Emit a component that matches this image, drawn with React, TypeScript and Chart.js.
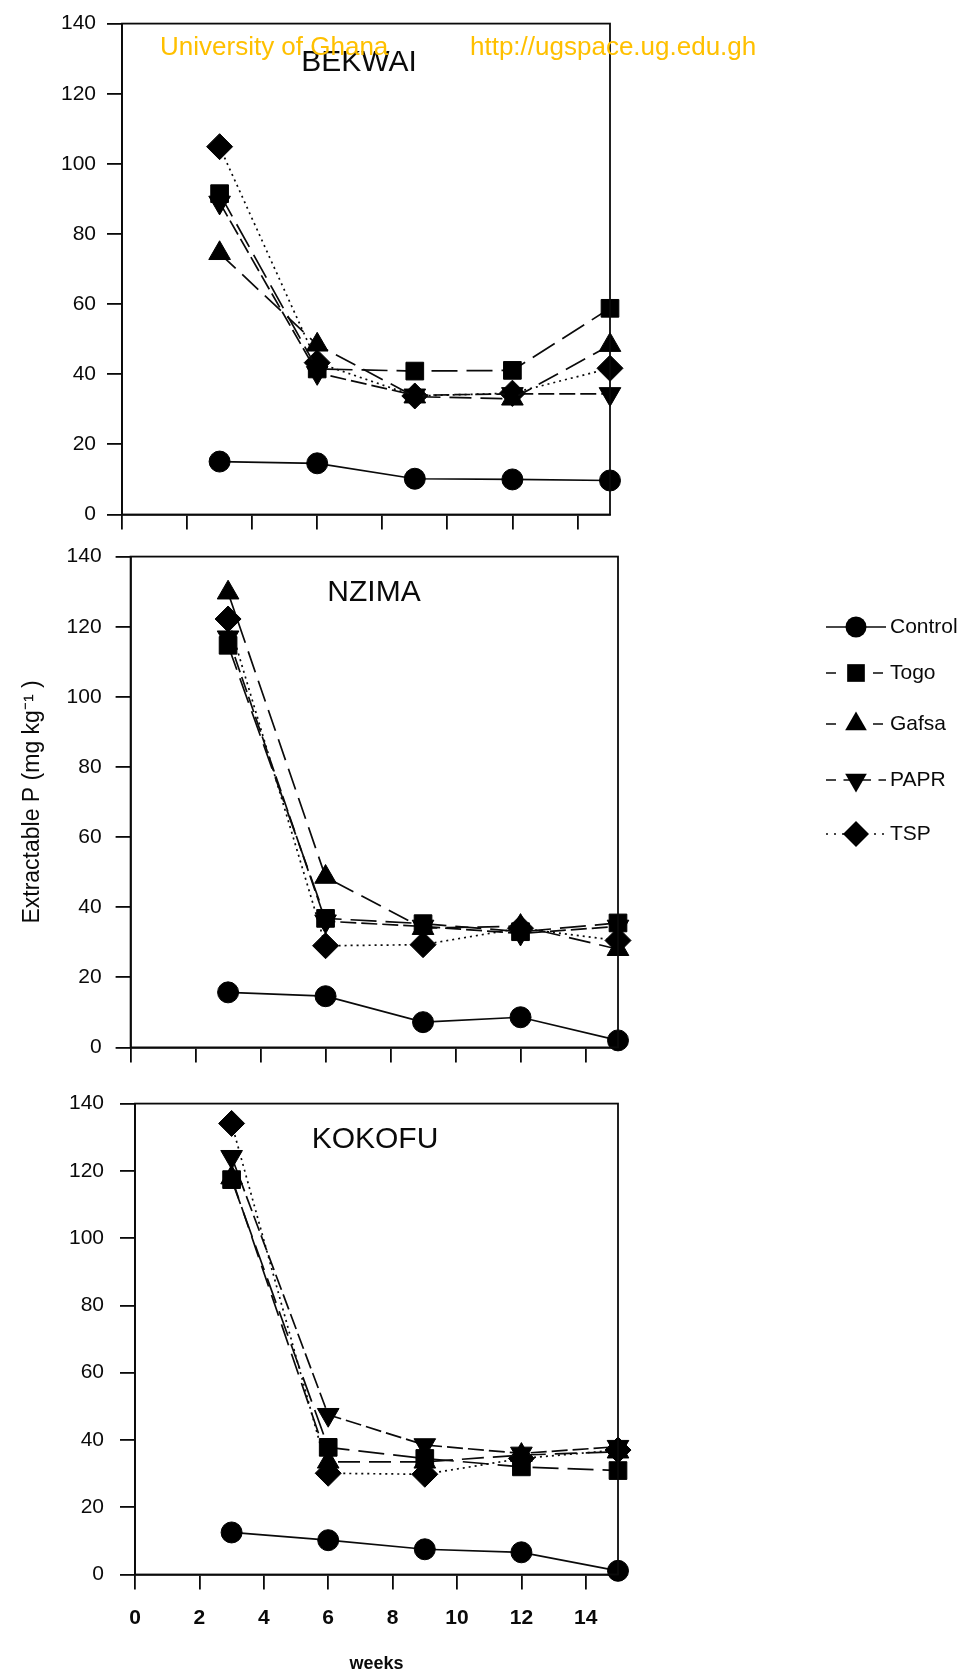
import React, { useEffect, useRef } from 'react';
import { Chart, registerables } from 'chart.js';

Chart.register(...registerables);

// ---------- data ----------
const weeks = [3, 6, 9, 12, 15];
const xTickValues = [0, 2, 4, 6, 8, 10, 12, 14];
const yTickValues = [0, 20, 40, 60, 80, 100, 120, 140];
const seriesNames = ['Control', 'Togo', 'Gafsa', 'PAPR', 'TSP'];

const bekwaiControl = [15.1, 14.6, 10.2, 10.0, 9.7];
const bekwaiTogo = [91.5, 41.5, 40.9, 41.1, 58.8];
const bekwaiGafsa = [74.5, 48.4, 33.6, 33.0, 48.3];
const bekwaiPAPR = [89.0, 40.4, 34.0, 34.4, 34.4];
const bekwaiTSP = [104.9, 43.3, 33.8, 34.6, 41.7];

const nzimaControl = [15.7, 14.6, 7.2, 8.6, 2.0];
const nzimaTogo = [114.7, 36.8, 35.3, 33.0, 35.5];
const nzimaGafsa = [129.7, 48.6, 34.0, 34.6, 28.0];
const nzimaPAPR = [117.0, 36.0, 34.5, 32.5, 34.5];
const nzimaTSP = [122.2, 29.0, 29.3, 34.0, 30.5];

const kokofuControl = [12.5, 10.2, 7.5, 6.6, 1.1];
const kokofuTogo = [117.4, 37.8, 34.5, 32.0, 30.9];
const kokofuGafsa = [118.0, 33.5, 33.5, 35.5, 36.5];
const kokofuPAPR = [124.2, 47.5, 38.5, 36.0, 38.0];
const kokofuTSP = [134.1, 30.1, 29.8, 34.5, 37.0];

const panelTitles = ['BEKWAI', 'NZIMA', 'KOKOFU'];
const yAxisTitle = 'Extractable P (mg kg\u207B\u00B9 )';
const xAxisTitle = 'weeks';

// ---------- styles ----------
const FONT = "'Liberation Sans', Arial, sans-serif";
const INK = '#0a0a0a';

const seriesStyles: any[] = [
  { pointStyle: 'circle', radius: 10.5, rotation: 0, dash: [] },
  { pointStyle: 'rect', radius: 12.5, rotation: 0, dash: [26, 9] },
  { pointStyle: 'triangle', radius: 12.5, rotation: 0, dash: [22, 9] },
  { pointStyle: 'triangle', radius: 12.5, rotation: 180, dash: [16, 5] },
  { pointStyle: 'rectRot', radius: 13, rotation: 0, dash: [2, 4] },
];

function buildDatasets(seriesValues: number[][]) {
  return seriesValues.map((vals, i) => {
    const st = seriesStyles[i];
    return {
      label: seriesNames[i],
      data: weeks.map((w, j) => ({ x: w, y: vals[j] })),
      borderColor: INK,
      backgroundColor: '#000',
      borderWidth: 1.7,
      borderDash: st.dash,
      pointStyle: st.pointStyle,
      pointRadius: st.radius,
      pointRotation: st.rotation,
      pointBackgroundColor: '#000',
      pointBorderColor: '#000',
      pointBorderWidth: 1,
      tension: 0,
      clip: false,
    };
  });
}

const framePlugin = {
  id: 'frameBox',
  afterDraw(chart: any) {
    const { ctx, chartArea } = chart;
    ctx.save();
    ctx.strokeStyle = INK;
    ctx.lineWidth = 1.8;
    ctx.setLineDash([]);
    ctx.strokeRect(chartArea.left, chartArea.top, chartArea.right - chartArea.left, chartArea.bottom - chartArea.top);
    ctx.restore();
  },
};

function drawMarker(ctx: CanvasRenderingContext2D, style: string, r: number, rot: number, x: number, y: number) {
  ctx.beginPath();
  if (style === 'circle') {
    ctx.arc(x, y, r, 0, Math.PI * 2);
  } else if (style === 'rect') {
    const s = r * Math.SQRT1_2;
    ctx.rect(x - s, y - s, 2 * s, 2 * s);
  } else if (style === 'triangle') {
    let a = (rot * Math.PI) / 180;
    ctx.moveTo(x + Math.sin(a) * r, y - Math.cos(a) * r);
    a += (2 * Math.PI) / 3;
    ctx.lineTo(x + Math.sin(a) * r, y - Math.cos(a) * r);
    a += (2 * Math.PI) / 3;
    ctx.lineTo(x + Math.sin(a) * r, y - Math.cos(a) * r);
    ctx.closePath();
  } else if (style === 'rectRot') {
    ctx.moveTo(x, y - r);
    ctx.lineTo(x + r, y);
    ctx.lineTo(x, y + r);
    ctx.lineTo(x - r, y);
    ctx.closePath();
  }
  ctx.fill();
}

const legendYs = [627, 673, 724, 780, 834];

function makeLegendPlugin(canvasTop: number) {
  return {
    id: 'sideLegend',
    afterDraw(chart: any) {
      const { ctx } = chart;
      ctx.save();
      seriesNames.forEach((name, i) => {
        const st = seriesStyles[i];
        const y = legendYs[i] - canvasTop;
        ctx.strokeStyle = INK;
        ctx.lineWidth = 1.7;
        ctx.setLineDash(st.dash.length ? [Math.min(st.dash[0], 10), st.dash[1] * 1.5] : []);
        ctx.beginPath();
        ctx.moveTo(826, y);
        ctx.lineTo(886, y);
        ctx.stroke();
        ctx.setLineDash([]);
        ctx.fillStyle = '#000';
        drawMarker(ctx, st.pointStyle, st.radius, st.rotation, 856, y);
        ctx.fillStyle = INK;
        ctx.font = `21px ${FONT}`;
        ctx.textBaseline = 'middle';
        ctx.textAlign = 'left';
        ctx.fillText(name, 890, y);
      });
      ctx.restore();
    },
  };
}

type PanelCfg = {
  top: number;
  width: number;
  height: number;
  areaLeft: number;
  areaRight: number;
  areaTop: number;
  areaBottom: number;
  labelPad: number;
  showX: boolean;
  showYTitle: boolean;
  legend: boolean;
  series: number[][];
};

function Panel({ cfg }: { cfg: PanelCfg }) {
  const ref = useRef<HTMLCanvasElement>(null);
  useEffect(() => {
    if (!ref.current) return;
    const plugins: any[] = [framePlugin];
    if (cfg.legend) plugins.push(makeLegendPlugin(cfg.top));
    const chart = new Chart(ref.current, {
      type: 'line',
      data: { datasets: buildDatasets(cfg.series) as any },
      options: {
        animation: false,
        responsive: false,
        devicePixelRatio: 1,
        layout: {
          padding: {
            left: 0,
            top: cfg.areaTop - cfg.top,
            right: cfg.width - cfg.areaRight,
            bottom: 0,
          },
        },
        plugins: { legend: { display: false }, tooltip: { enabled: false }, title: { display: false } },
        scales: {
          x: {
            type: 'linear',
            min: 0,
            max: 15,
            afterBuildTicks: (s: any) => {
              s.ticks = xTickValues.map((v) => ({ value: v }));
            },
            afterFit: (s: any) => {
              s.height = cfg.top + cfg.height - cfg.areaBottom;
            },
            grid: { drawOnChartArea: false, drawTicks: true, tickLength: 15, color: INK, lineWidth: 1.8 },
            border: { display: true, color: INK, width: 1.8 },
            ticks: {
              display: cfg.showX,
              autoSkip: false,
              maxRotation: 0,
              padding: 16,
              color: INK,
              font: { family: FONT, size: 21, weight: 'bold' },
            },
            title: {
              display: cfg.showX,
              text: xAxisTitle,
              color: INK,
              font: { family: FONT, size: 18, weight: 'bold' },
              padding: { top: 0, bottom: 0 },
            },
          },
          y: {
            type: 'linear',
            min: 0,
            max: 140,
            afterBuildTicks: (s: any) => {
              s.ticks = yTickValues.map((v) => ({ value: v }));
            },
            afterFit: (s: any) => {
              s.width = cfg.areaLeft;
            },
            grid: { drawOnChartArea: false, drawTicks: true, tickLength: 15, color: INK, lineWidth: 1.8 },
            border: { display: true, color: INK, width: 1.8 },
            ticks: { padding: cfg.labelPad, color: INK, font: { family: FONT, size: 21 } },
            title: {
              display: cfg.showYTitle,
              text: yAxisTitle,
              color: INK,
              font: { family: FONT, size: 23 },
              padding: { top: 19, bottom: 0 },
            },
          },
        },
      },
      plugins,
    });
    return () => chart.destroy();
  }, []);
  return (
    <canvas
      ref={ref}
      width={cfg.width}
      height={cfg.height}
      style={{ position: 'absolute', left: 0, top: cfg.top, width: cfg.width, height: cfg.height }}
    />
  );
}

const panels: PanelCfg[] = [
  {
    top: 0, width: 640, height: 545,
    areaLeft: 122, areaRight: 610, areaTop: 20, areaBottom: 514.5,
    labelPad: 11, showX: false, showYTitle: false, legend: false,
    series: [bekwaiControl, bekwaiTogo, bekwaiGafsa, bekwaiPAPR, bekwaiTSP],
  },
  {
    top: 530, width: 968, height: 545,
    areaLeft: 130.6, areaRight: 618, areaTop: 552, areaBottom: 1047.4,
    labelPad: 14, showX: false, showYTitle: true, legend: true,
    series: [nzimaControl, nzimaTogo, nzimaGafsa, nzimaPAPR, nzimaTSP],
  },
  {
    top: 1075, width: 640, height: 600,
    areaLeft: 135, areaRight: 618, areaTop: 1088.5, areaBottom: 1574.5,
    labelPad: 16, showX: true, showYTitle: false, legend: false,
    series: [kokofuControl, kokofuTogo, kokofuGafsa, kokofuPAPR, kokofuTSP],
  },
];

const titlePos = [
  { x: 359, y: 61 },
  { x: 374, y: 591 },
  { x: 375, y: 1138 },
];

export default function App() {
  return (
    <div style={{ position: 'absolute', left: 0, top: 0, width: 968, height: 1675, background: '#fff', overflow: 'hidden' }}>
      {panels.map((p, i) => (
        <Panel key={i} cfg={p} />
      ))}
      {panelTitles.map((t, i) => (
        <div
          key={t}
          style={{
            position: 'absolute',
            left: titlePos[i].x,
            top: titlePos[i].y,
            transform: 'translate(-50%, -50%)',
            font: `30px ${FONT}`,
            color: INK,
            whiteSpace: 'nowrap',
            lineHeight: 1,
          }}
        >
          {t}
        </div>
      ))}
      <div style={{ position: 'absolute', left: 160, top: 46, transform: 'translateY(-50%)', font: `26px ${FONT}`, color: '#FFC000', whiteSpace: 'nowrap', lineHeight: 1 }}>
        University of Ghana
      </div>
      <div style={{ position: 'absolute', left: 470, top: 46, transform: 'translateY(-50%)', font: `26px ${FONT}`, color: '#FFC000', whiteSpace: 'nowrap', lineHeight: 1 }}>
        http://ugspace.ug.edu.gh
      </div>
    </div>
  );
}
